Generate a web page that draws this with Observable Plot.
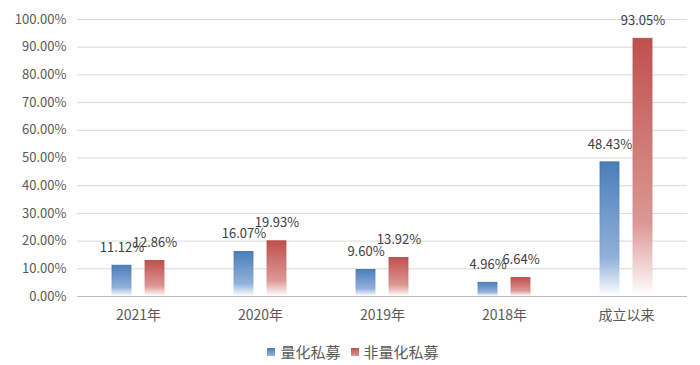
<!DOCTYPE html>
<html><head><meta charset="utf-8">
<script src="https://cdn.jsdelivr.net/npm/d3@7"></script>
<script src="https://cdn.jsdelivr.net/npm/@observablehq/plot@0.6"></script>
<style>
body{margin:0;background:#fff;font-family:"Noto Sans CJK SC","Noto Sans",sans-serif;}
#chart svg{display:block;}
#legend{width:700px;display:flex;justify-content:center;align-items:center;margin-top:8px;padding-left:6px;box-sizing:border-box;font-size:15px;color:#595959;line-height:18px;}
.item{display:flex;align-items:center;margin:0 5px;}
.sw{width:8px;height:8px;margin-right:5px;}
</style></head><body><div id="chart"></div><div id="legend"></div>
<script>
const categories = ["2021年", "2020年", "2019年", "2018年", "成立以来"];
const seriesNames = ["量化私募", "非量化私募"];
const quantValues = [11.12, 16.07, 9.60, 4.96, 48.43];
const nonQuantValues = [12.86, 19.93, 13.92, 6.64, 93.05];
const yTicks = [0, 10, 20, 30, 40, 50, 60, 70, 80, 90, 100];
const seriesColors = ["#4a7ebb", "#c0504d"];

const data = categories.flatMap((c, i) => [
  {category: c, series: seriesNames[0], value: quantValues[i] / 100},
  {category: c, series: seriesNames[1], value: nonQuantValues[i] / 100}
]);
const pct = d3.format(".2%");

const plot = Plot.plot({
  width: 700, height: 335,
  marginLeft: 75, marginRight: 12, marginTop: 19, marginBottom: 39,
  style: {fontFamily: '"Noto Sans CJK SC","Noto Sans",sans-serif', fontSize: "13px", color: "#595959", background: "white"},
  fx: {domain: categories, padding: 0, label: null},
  x: {domain: seriesNames, paddingInner: 0.41, paddingOuter: 1.0, axis: null},
  y: {domain: [0, 1], label: null},
  marks: [
    Plot.gridY(yTicks.map(t => t / 100), {stroke: "#d9d9d9", strokeOpacity: 1}),
    Plot.axisY(yTicks.map(t => t / 100), {tickSize: 0, tickPadding: 11, tickFormat: pct, fontSize: 13, fill: "#595959", label: null}),
    Plot.axisFx({anchor: "bottom", tickSize: 0, tickPadding: 14, fontSize: 14, fill: "#595959", label: null}),
    Plot.barY(data.filter(d => d.series === seriesNames[0]), {fx: "category", x: "series", y: "value", fill: "url(#gQ)", stroke: "url(#sQ)", strokeWidth: 0.8}),
    Plot.barY(data.filter(d => d.series === seriesNames[1]), {fx: "category", x: "series", y: "value", fill: "url(#gN)", stroke: "url(#sN)", strokeWidth: 0.8}),
    Plot.ruleY([0], {stroke: "#bfbfbf"}),
    Plot.text(data, {fx: "category", x: "series", y: "value", text: d => pct(d.value), dy: -18, fill: "#404040", fontSize: 13})
  ]
});

const defs = d3.select(plot).insert("defs", ":first-child");
function grad(id, top, mid, bottom) {
  const g = defs.append("linearGradient").attr("id", id).attr("x1", 0).attr("y1", 0).attr("x2", 0).attr("y2", 1);
  g.append("stop").attr("offset", "0%").attr("stop-color", top);
  g.append("stop").attr("offset", "72%").attr("stop-color", mid);
  g.append("stop").attr("offset", "100%").attr("stop-color", bottom);
}
grad("gQ", "#4a7ebb", "#92b1da", "#ffffff");
grad("gN", "#c0504d", "#dc9896", "#ffffff");
grad("sQ", "#3f6fa8", "#88a8d4", "#ffffff");
grad("sN", "#b04845", "#d68d8b", "#ffffff");

document.getElementById("chart").appendChild(plot);

const legend = d3.select("#legend");
seriesNames.forEach((s, i) => {
  const it = legend.append("div").attr("class", "item");
  it.append("div").attr("class", "sw").style("background", `linear-gradient(${seriesColors[i]}, ${i ? "#dc9896" : "#92b1da"})`);
  it.append("span").text(s);
});
</script></body></html>
